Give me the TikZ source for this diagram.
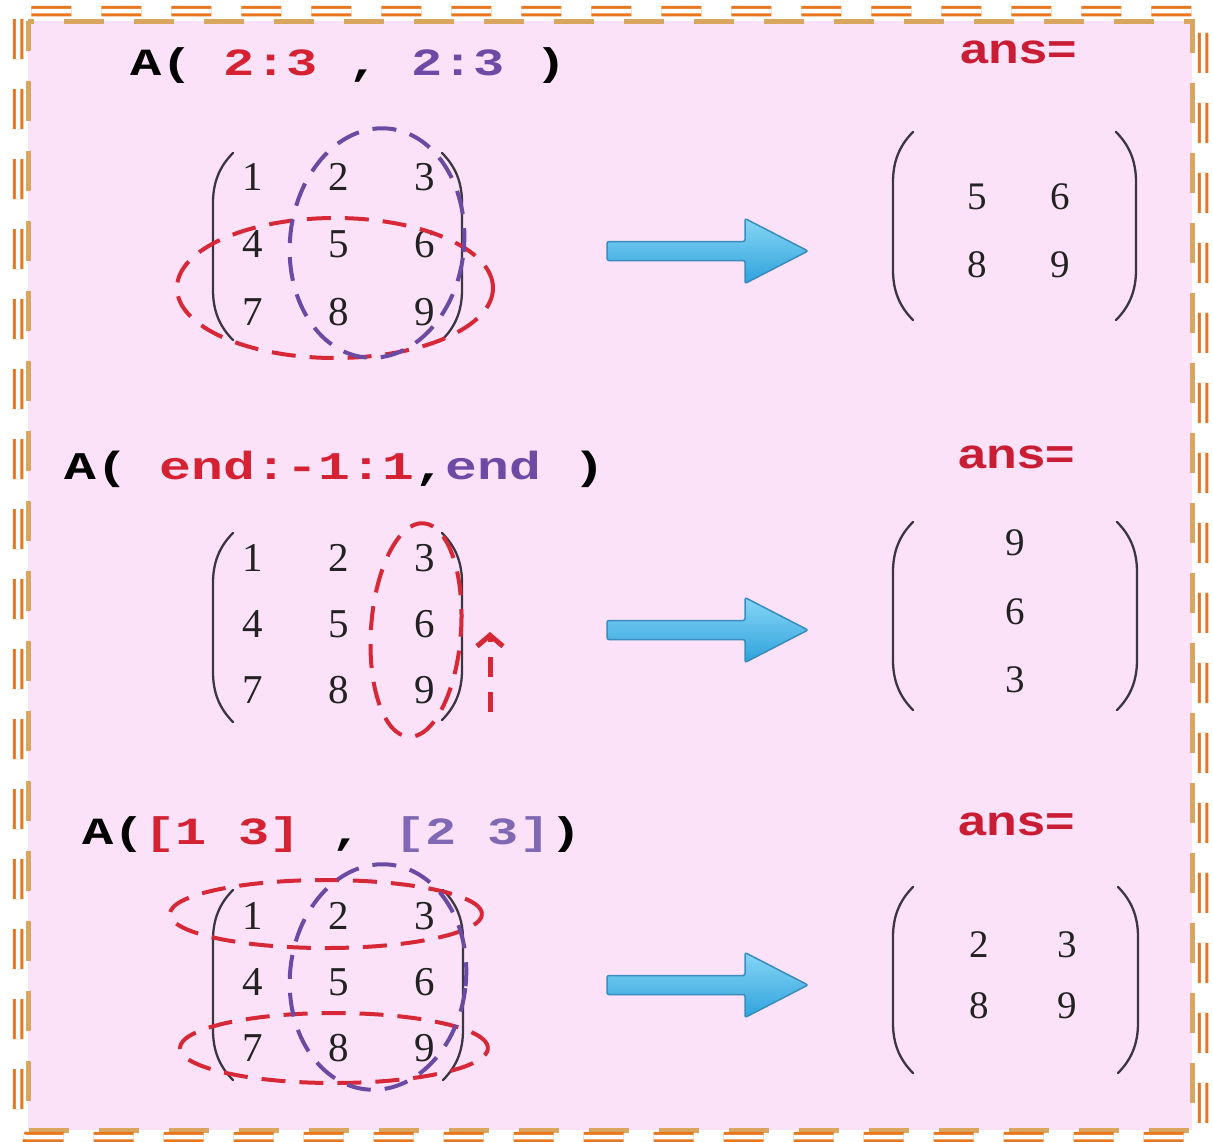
\documentclass[tikz,border=0pt]{standalone}
\usepackage{graphicx}
\usepackage{fontspec}
\setmainfont{Liberation Serif}
\newfontfamily\codefont{Liberation Mono}
\newfontfamily\ansfont{Liberation Sans}
\usetikzlibrary{arrows.meta}
\definecolor{bgpink}{HTML}{FBE2F8}
\definecolor{frameorange}{HTML}{E8761C}
\definecolor{frametan}{HTML}{D9A660}
\definecolor{codered}{HTML}{D42232}
\definecolor{codepurple}{HTML}{6E4AA6}
\definecolor{codepurplelight}{HTML}{8068B4}
\definecolor{ansred}{HTML}{C81D34}
\definecolor{digit}{HTML}{222222}
\definecolor{parcol}{HTML}{3C3642}
\definecolor{ellred}{HTML}{D62836}
\definecolor{ellpurple}{HTML}{6A4AA2}
\definecolor{arrowtop}{HTML}{86D6F6}
\definecolor{arrowbot}{HTML}{2FA2DC}
\definecolor{arrowedge}{HTML}{3A8CBE}
\newcommand{\mylparen}[3]{%
  \draw[paren] (#1+20,#2) .. controls (#1+6,#2+14) and (#1,#2+30) .. (#1,#2+50)
    -- (#1,#3-50) .. controls (#1,#3-30) and (#1+6,#3-14) .. (#1+20,#3);}
\newcommand{\myrparen}[3]{%
  \draw[paren] (#1-20,#2) .. controls (#1-6,#2+14) and (#1,#2+30) .. (#1,#2+50)
    -- (#1,#3-50) .. controls (#1,#3-30) and (#1-6,#3-14) .. (#1-20,#3);}
\newcommand{\squash}[1]{\scalebox{1}[0.74]{#1}}
\begin{document}
\begin{tikzpicture}[x=1pt,y=-1pt,
  digitL/.style={font=\fontsize{41}{41}\selectfont, text=digit, inner sep=0pt},
  digitR/.style={font=\fontsize{39}{39}\selectfont, text=digit, inner sep=0pt},
  codelabel/.style={anchor=base west, inner sep=0pt, font=\codefont\bfseries\fontsize{52}{52}\selectfont},
  anslabel/.style={anchor=base west, inner sep=0pt, text=ansred, font=\ansfont\bfseries\fontsize{42}{42}\selectfont},
  paren/.style={draw=parcol, line width=2.3pt, line cap=round},
  ellR/.style={draw=ellred, line width=4pt, dash pattern=on 24pt off 14pt},
  ellP/.style={draw=ellpurple, line width=4pt, dash pattern=on 24pt off 14pt},
  bigarrow/.style={draw=arrowedge, line width=1.5pt, top color=arrowtop, bottom color=arrowbot, rounded corners=2pt},
]
\useasboundingbox (0,0) rectangle (1213,1141);
\fill[white] (0,0) rectangle (1213,1141);
% background and frame
\fill[bgpink] (28,21) rectangle (1192,1130);
\draw[frametan, line width=5pt, dash pattern=on 40pt off 30pt, dash phase=10pt] (28,21) rectangle (1192,1130);
\draw[frameorange, line width=3pt, double=white, double distance=4.5pt, dash pattern=on 40pt off 30pt, rounded corners=8pt] (18,11) rectangle (1203,1137);

% ---------- labels ----------
\node[codelabel] (q1) at (130,75) {\squash{A( \textcolor{codered}{2:3} , \textcolor{codepurple}{2:3} )}};
\node[codelabel, font=\codefont\bfseries\fontsize{53}{53}\selectfont] (q2) at (64,479) {\squash{A( \textcolor{codered}{end:-1:1},\textcolor{codepurple}{end} )}};
\node[codelabel] (q3) at (82,844) {\squash{A(\textcolor{codered}{[1 3]} , \textcolor{codepurplelight}{[2 3]})}};
\node[anslabel] (ans1) at (960,63) {\scalebox{1.2}[1]{ans=}};
\node[anslabel] (ans2) at (958,468) {\scalebox{1.2}[1]{ans=}};
\node[anslabel] (ans3) at (958,835) {\scalebox{1.2}[1]{ans=}};

% ---------- left matrices ----------
\foreach \v in {1,...,9}{
  \node[digitL] (A\v) at ({253+86*mod(\v-1,3)},{177+67.5*div(\v-1,3)}) {\v};
  \node[digitL] (B\v) at ({253+86*mod(\v-1,3)},{558+66*div(\v-1,3)}) {\v};
  \node[digitL] (C\v) at ({253+86*mod(\v-1,3)},{916+66*div(\v-1,3)}) {\v};
}
\mylparen{213}{153}{340}\myrparen{462}{153}{340}
\mylparen{213}{533}{722}\myrparen{462}{533}{720}
\mylparen{213}{890}{1080}\myrparen{463}{890}{1080}

% ---------- selection ellipses ----------
\draw[ellR] (335,288) ellipse [x radius=158pt, y radius=70pt];
\draw[ellP, rotate around={-6:(377,243)}] (377,243) ellipse [x radius=87pt, y radius=115pt];
\draw[ellR, rotate around={-4:(416,630)}] (416,630) ellipse [x radius=45pt, y radius=107pt];
\draw[ellR] (326,914) ellipse [x radius=156pt, y radius=34pt];
\draw[ellR] (334,1048) ellipse [x radius=154pt, y radius=35pt];
\draw[ellP, rotate around={-6:(378,977)}] (378,977) ellipse [x radius=88pt, y radius=113pt];

% red dashed upward arrow
\coordinate (up0) at (490,712);
\coordinate (up1) at (490,632);
\draw[draw=ellred, line width=5pt, dash pattern=on 20pt off 15pt, -{Straight Barb[length=11pt, width=26pt, line width=5pt]}] (up0) -- (up1);

% ---------- result matrices ----------
\node[digitR] (R5) at (977,197) {5};
\node[digitR] (R6) at (1060,197) {6};
\node[digitR] (R8) at (977,265) {8};
\node[digitR] (R9) at (1060,265) {9};
\mylparen{893}{132}{320}\myrparen{1136}{132}{320}

\node[digitR] (S9) at (1015,543) {9};
\node[digitR] (S6) at (1015,612) {6};
\node[digitR] (S3) at (1015,680) {3};
\mylparen{893}{522}{710}\myrparen{1137}{522}{710}

\node[digitR] (T2) at (979,945) {2};
\node[digitR] (T3) at (1067,945) {3};
\node[digitR] (T8) at (979,1006) {8};
\node[digitR] (T9) at (1067,1006) {9};
\mylparen{893}{887}{1073}\myrparen{1138}{887}{1073}

% ---------- big blue arrows ----------
\coordinate (a1s) at (607,251); \coordinate (a1e) at (808,251);
\coordinate (a2s) at (607,630); \coordinate (a2e) at (808,630);
\coordinate (a3s) at (607,985); \coordinate (a3e) at (808,985);
\foreach \s/\e in {a1s/a1e,a2s/a2e,a3s/a3e}{
  \draw[bigarrow] (\s) ++(0,-9.5) -- ++(138,0) -- ++(0,-23) -- (\e) -- ++(-63,32.5) -- ++(0,-23) -- ++(-138,0) -- cycle;
}
\end{tikzpicture}
\end{document}
